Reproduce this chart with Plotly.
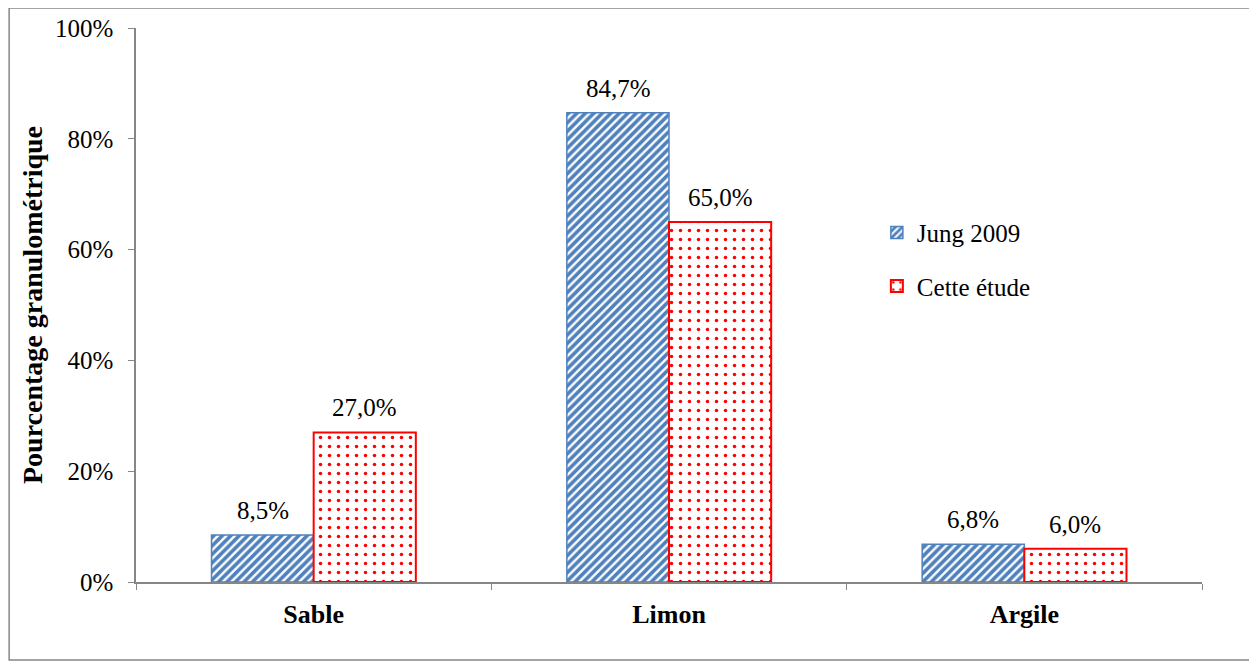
import plotly.graph_objects as go

categories = ["Sable", "Limon", "Argile"]
jung_2009 = [0.085, 0.847, 0.068]
cette_etude = [0.270, 0.650, 0.060]
jung_labels = ["8,5%", "84,7%", "6,8%"]
etude_labels = ["27,0%", "65,0%", "6,0%"]

FONT = "Liberation Serif, Times New Roman, serif"
GREY = "#868686"
BLUE = "#4F81BD"
RED = "#FF0000"
FS = 25

fig = go.Figure()

fig.add_trace(go.Bar(
    x=categories, y=jung_2009, name="Jung 2009",
    marker=dict(
        color="white",
        line=dict(color=BLUE, width=1.5),
        pattern=dict(shape="/", fgcolor=BLUE, bgcolor="white", fgopacity=1,
                     size=6, solidity=0.6),
    ),
    legendgroup="a",
))
fig.add_trace(go.Bar(
    x=categories, y=cette_etude, name="Cette étude",
    marker=dict(
        color="white",
        line=dict(color=RED, width=2),
        pattern=dict(shape=".", fgcolor=RED, bgcolor="white", fgopacity=1,
                     size=9, solidity=0.12),
    ),
    legendgroup="b",
))

# value labels, placed a bit higher above the bars than plotly's own text
for vals, labels, dx in [(jung_2009, jung_labels, -51), (cette_etude, etude_labels, 51)]:
    for cat, v, lab in zip(categories, vals, labels):
        fig.add_annotation(x=cat, y=v, text=lab, showarrow=False,
                           xanchor="center", yanchor="bottom",
                           xshift=dx, yshift=9,
                           font=dict(size=FS, family=FONT, color="black"))

# outer frame around the whole chart
fig.add_shape(type="rect", xref="paper", yref="paper",
              x0=-0.119, x1=1.045, y0=-0.141, y1=1.036,
              line=dict(color=GREY, width=1.5), fillcolor="rgba(0,0,0,0)")

# the page body adds an 8px offset, so the figure is made slightly smaller
fig.update_layout(
    width=1249, height=657,
    margin=dict(l=128, r=55, t=20, b=83),
    plot_bgcolor="white", paper_bgcolor="white",
    barmode="group", bargap=0.425, bargroupgap=0,
    font=dict(family=FONT, color="black", size=FS),
    showlegend=True,
    legend=dict(x=0.695, y=0.672, xanchor="left", yanchor="top",
                font=dict(size=FS, family=FONT), tracegroupgap=18,
                itemwidth=30, bgcolor="rgba(0,0,0,0)"),
)

fig.update_xaxes(
    showline=True, linecolor=GREY, linewidth=1.5,
    ticks="outside", tickson="boundaries", ticklen=6, tickcolor=GREY,
    tickfont=dict(size=26, family=FONT), ticklabelstandoff=8,
    tickprefix="<b>", ticksuffix="</b>",
    showgrid=False, automargin=False,
)
fig.update_yaxes(
    range=[0, 1], tickvals=[0, 0.2, 0.4, 0.6, 0.8, 1.0],
    ticktext=["0%", "20%", "40%", "60%", "80%", "100%"],
    showline=True, linecolor=GREY, linewidth=1.5,
    ticks="outside", ticklen=6, tickcolor=GREY,
    tickfont=dict(size=FS, family=FONT), ticklabelstandoff=10,
    showgrid=False, zeroline=False, automargin=False,
    title=dict(text="<b>Pourcentage granulométrique</b>", font=dict(size=28, family=FONT), standoff=4),
)

fig.write_html("out.html")
